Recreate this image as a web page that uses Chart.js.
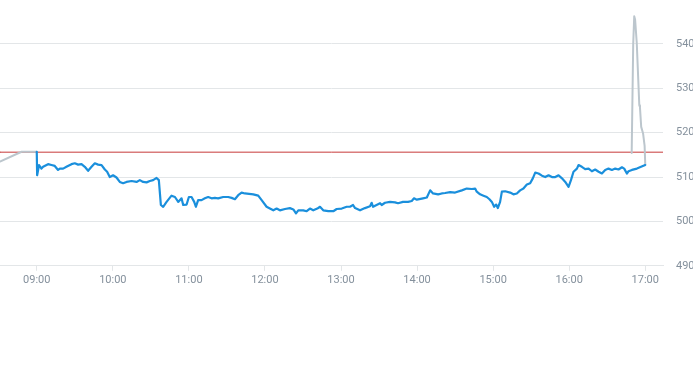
<!DOCTYPE html>
<html>
<head>
<meta charset="utf-8">
<script src="https://cdn.jsdelivr.net/npm/chart.js@4.4.1/dist/chart.umd.min.js"></script>
<style>
  html, body { margin: 0; padding: 0; background: #ffffff; }
  #wrap { width: 693px; height: 290px; position: relative; }
</style>
</head>
<body>
<div id="wrap"><canvas id="c"></canvas></div>
<script>
// Time values are minutes after 09:00
const tickLabels = ['09:00','10:00','11:00','12:00','13:00','14:00','15:00','16:00','17:00'];
const tickMinutes = [0, 60, 120, 180, 240, 300, 360, 420, 480];
const yTicks = [490, 500, 510, 520, 530, 540];

const prevClose = 515.6;

const preTimes  = [-29, -12, 0];
const prePrices = [513.5, 515.7, 515.7];

const sessionTimes = [
  0, 0.3, 1.8, 3.7, 5.0, 8.9, 11.6, 14.2, 16.8, 18.2, 20.8, 23.4, 27.4, 30.0, 32.6, 35.3, 37.9, 40.5, 43.2, 45.8,
  48.4, 51.1, 53.7, 55.5, 57.6, 60.2, 62.9, 65.5, 68.1, 70.8, 74.8, 78.7, 81.3, 83.9, 86.6, 89.2, 91.8, 94.5, 96.3, 97.9,
  99.7, 102.4, 106.3, 109.0, 111.6, 114.2, 115.5, 118.2, 120.0, 122.1, 124.2, 125.5, 127.3, 130.0, 132.6, 135.2, 137.9, 140.5, 143.1, 147.1,
  151.0, 153.7, 156.3, 158.9, 161.6, 164.2, 170.8, 174.7, 177.4, 181.3, 183.9, 186.6, 189.2, 191.8, 195.8, 199.7, 202.4, 204.5, 206.3, 210.2,
  212.9, 215.5, 218.1, 221.3, 223.4, 226.0, 230.0, 233.9, 236.6, 240.6, 244.5, 247.1, 249.5, 251.1, 255.0, 258.9, 262.9, 264.2, 265.3, 270.8,
  272.1, 274.7, 278.7, 282.6, 285.0, 288.9, 292.9, 295.8, 297.6, 299.8, 304.7, 307.7, 310.3, 312.6, 316.6, 319.5, 322.1, 326.1, 330.0, 335.3,
  339.2, 343.2, 345.8, 347.1, 349.7, 352.4, 355.0, 357.1, 359.0, 360.8, 362.4, 363.7, 365.5, 366.9, 369.5, 373.4, 376.0, 378.7, 381.3, 383.9,
  386.6, 389.2, 391.3, 393.2, 395.8, 398.5, 401.1, 403.7, 406.4, 409.0, 411.6, 414.3, 416.9, 419.5, 421.4, 423.4, 426.1, 427.4, 430.0, 432.6,
  435.3, 437.9, 440.5, 443.2, 445.8, 448.4, 451.0, 453.7, 456.3, 458.9, 461.6, 463.4, 465.5, 466.8, 469.5, 473.4, 480
];
const sessionPrices = [
  515.7, 510.4, 512.7, 511.9, 512.3, 512.9, 512.7, 512.5, 511.6, 511.9, 511.9, 512.3, 512.9, 513.1, 512.8, 512.9, 512.3, 511.4, 512.3, 513.1,
  512.8, 512.7, 511.7, 511.2, 510.0, 510.4, 509.9, 508.9, 508.6, 508.9, 509.1, 508.9, 509.3, 508.9, 508.8, 509.1, 509.3, 509.8, 509.3, 503.7,
  503.3, 504.4, 505.8, 505.5, 504.4, 505.2, 503.7, 503.8, 505.5, 505.5, 504.4, 503.3, 504.8, 504.8, 505.2, 505.5, 505.2, 505.3, 505.2, 505.5,
  505.5, 505.3, 505.0, 505.9, 506.5, 506.3, 506.1, 505.8, 504.8, 503.3, 502.9, 502.5, 502.9, 502.5, 502.8, 503.0, 502.7, 501.8, 502.5, 502.5,
  502.3, 502.9, 502.5, 502.9, 503.3, 502.5, 502.3, 502.3, 502.8, 502.9, 503.3, 503.3, 503.7, 503.0, 502.5, 503.0, 503.4, 504.2, 503.3, 504.1,
  503.7, 504.2, 504.4, 504.3, 504.1, 504.4, 504.4, 504.6, 505.2, 504.9, 505.2, 505.4, 507.0, 506.3, 506.1, 506.3, 506.4, 506.6, 506.5, 507.0,
  507.4, 507.3, 507.4, 506.7, 506.1, 505.8, 505.5, 505.0, 504.4, 503.3, 503.8, 503.0, 504.4, 506.7, 506.8, 506.5, 506.1, 506.3, 507.0, 507.4,
  508.3, 508.6, 509.7, 511.0, 510.8, 510.3, 510.0, 510.4, 510.0, 510.0, 510.4, 509.7, 508.9, 507.8, 509.3, 511.2, 511.9, 512.7, 512.3, 511.8,
  511.9, 511.3, 511.7, 511.2, 510.8, 511.6, 511.9, 511.6, 511.9, 511.7, 512.2, 511.9, 510.8, 511.3, 511.6, 511.9, 512.7
];

const postTimes  = [469.3, 470.5, 471.3, 472.0, 473.3, 475.3, 475.8, 476.8, 478.3, 479.5, 480];
const postPrices = [515.4, 540.0, 546.2, 545.5, 540.2, 526.2, 525.8, 521.3, 519.8, 517.0, 512.8];

const xMin = -29, xMax = 494;

const zip = (xs, ys) => xs.map((x, i) => ({ x: x, y: ys[i] }));

const tickFont = { family: 'Roboto, "Liberation Sans", sans-serif', size: 11 };
const tickColor = '#84909c';
const gridColor = '#e3e6e8';

new Chart(document.getElementById('c'), {
  type: 'line',
  data: {
    datasets: [
      { data: [{ x: xMin, y: prevClose }, { x: xMax, y: prevClose }], borderColor: '#c73a3a', borderWidth: 1, pointRadius: 0, order: 3 },
      { data: zip(preTimes, prePrices), borderColor: '#bcc6cd', borderWidth: 2, pointRadius: 0, order: 2 },
      { data: zip(postTimes, postPrices), borderColor: '#bcc6cd', borderWidth: 2, pointRadius: 0, order: 2 },
      { data: zip(sessionTimes, sessionPrices), borderColor: '#1a8fdc', borderWidth: 2.2, pointRadius: 0, order: 1 }
    ]
  },
  options: {
    responsive: true,
    maintainAspectRatio: false,
    animation: false,
    events: [],
    layout: { padding: 0 },
    plugins: { legend: { display: false }, tooltip: { enabled: false } },
    elements: { line: { tension: 0, borderJoinStyle: 'round', borderCapStyle: 'round' } },
    scales: {
      x: {
        type: 'linear',
        min: xMin,
        max: xMax,
        afterBuildTicks: (axis) => { axis.ticks = tickMinutes.map(v => ({ value: v })); },
        grid: { drawOnChartArea: false, drawTicks: true, tickLength: 5, color: gridColor },
        border: { color: gridColor },
        ticks: {
          autoSkip: false,
          maxRotation: 0,
          padding: 3,
          color: tickColor,
          font: tickFont,
          callback: (v) => { const i = tickMinutes.indexOf(v); return i >= 0 ? tickLabels[i] : ''; }
        }
      },
      y: {
        type: 'linear',
        position: 'right',
        min: 490,
        max: 548.4,
        afterBuildTicks: (axis) => { axis.ticks = yTicks.map(v => ({ value: v })); },
        afterFit: (axis) => { axis.width = 30; },
        grid: { drawTicks: true, tickLength: 13, tickColor: 'rgba(0,0,0,0)', color: gridColor },
        border: { display: false },
        ticks: { padding: 0, color: tickColor, font: tickFont }
      }
    }
  }
});
</script>
</body>
</html>
